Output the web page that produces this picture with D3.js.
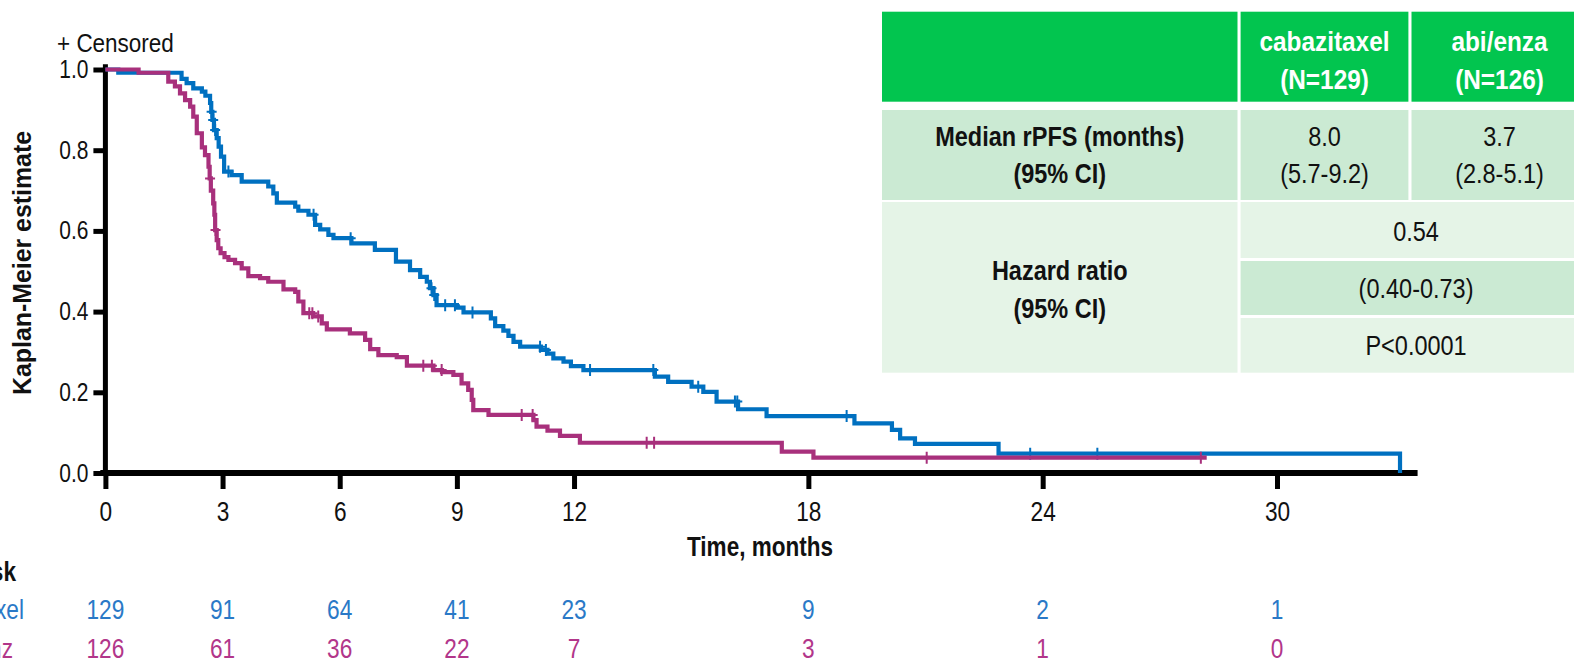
<!DOCTYPE html>
<html>
<head>
<meta charset="utf-8">
<script src="https://cdn.jsdelivr.net/npm/d3@7"></script>
<style>
  body { margin: 0; background: #fff; }
  svg { display: block; }
  text { font-family: "Liberation Sans", Arial, Helvetica, sans-serif; }
</style>
</head>
<body>
<svg id="chart" width="1574" height="661"></svg>
<script>
// ---- data ----
const months = [0, 3, 6, 9, 12, 18, 24, 30];
const survivalTicks = [0, 0.2, 0.4, 0.6, 0.8, 1.0];
const atRiskCaba = [129, 91, 64, 41, 23, 9, 2, 1];
const atRiskAbi = [126, 61, 36, 22, 7, 3, 1, 0];

// Kaplan-Meier steps: [time in months, survival after the step]
const cabaSteps = [
  [0, 1.0], [0.33, 0.992], [1.95, 0.977], [2.08, 0.966], [2.25, 0.953], [2.47, 0.945],
  [2.56, 0.935], [2.68, 0.917], [2.71, 0.895], [2.74, 0.875], [2.78, 0.850], [2.85, 0.830],
  [2.90, 0.809], [2.96, 0.784], [3.04, 0.747], [3.23, 0.738], [3.49, 0.722], [4.17, 0.710],
  [4.30, 0.693], [4.39, 0.670], [4.86, 0.660], [4.94, 0.650], [5.20, 0.640], [5.37, 0.615],
  [5.50, 0.604], [5.71, 0.590], [5.84, 0.582], [6.30, 0.569], [6.90, 0.553], [7.44, 0.524],
  [7.80, 0.503], [8.06, 0.486], [8.23, 0.474], [8.31, 0.458], [8.40, 0.441], [8.48, 0.416],
  [9.00, 0.410], [9.17, 0.398], [9.87, 0.383], [9.98, 0.364], [10.19, 0.353], [10.32, 0.340],
  [10.45, 0.325], [10.62, 0.313], [11.15, 0.305], [11.32, 0.296], [11.47, 0.284], [11.73, 0.276],
  [11.92, 0.265], [12.24, 0.255], [14.07, 0.239], [14.41, 0.226], [15.01, 0.214], [15.31, 0.201],
  [15.65, 0.177], [16.20, 0.158], [16.93, 0.141], [19.18, 0.123], [20.14, 0.107], [20.35, 0.086],
  [20.73, 0.072], [22.87, 0.048], [33.15, 0.0]
];
const cabaCensored = [2.72, 2.76, 2.81, 3.15, 5.33, 6.28, 8.35, 8.42, 8.70, 8.95, 9.40,
  11.13, 11.28, 12.41, 14.03, 15.18, 16.12, 16.18, 18.98, 23.68, 25.40];
const cabaLastTime = 33.15;

const abiSteps = [
  [0, 1.0], [0.85, 0.992], [1.61, 0.970], [1.78, 0.958], [1.91, 0.941], [2.04, 0.924],
  [2.17, 0.908], [2.25, 0.883], [2.34, 0.842], [2.47, 0.807], [2.55, 0.788], [2.64, 0.759],
  [2.67, 0.730], [2.70, 0.700], [2.76, 0.668], [2.79, 0.640], [2.81, 0.602], [2.85, 0.577],
  [2.89, 0.557], [2.95, 0.545], [3.05, 0.535], [3.15, 0.528], [3.32, 0.520], [3.49, 0.507],
  [3.66, 0.488], [3.96, 0.483], [4.17, 0.474], [4.56, 0.455], [4.86, 0.449], [4.94, 0.425],
  [5.07, 0.396], [5.32, 0.388], [5.54, 0.371], [5.67, 0.356], [6.26, 0.346], [6.65, 0.330],
  [6.78, 0.307], [6.99, 0.292], [7.46, 0.287], [7.72, 0.266], [8.40, 0.255], [8.62, 0.250],
  [8.91, 0.243], [9.12, 0.222], [9.29, 0.206], [9.38, 0.181], [9.42, 0.156], [9.81, 0.144],
  [10.96, 0.131], [11.04, 0.115], [11.32, 0.105], [11.64, 0.092], [12.15, 0.075], [17.32, 0.053],
  [18.13, 0.038]
];
const abiCensored = [2.68, 2.82, 5.22, 5.30, 5.45, 8.14, 8.36, 8.61, 10.66, 10.94, 13.86, 14.05, 21.03, 28.05];
const abiLastTime = 28.2;

const armNames = ["cabazitaxel", "abi/enza"];
const armN = [129, 126];
const medianRpfs = ["8.0", "3.7"];
const medianCI = ["(5.7-9.2)", "(2.8-5.1)"];
const hazardRatio = "0.54";
const hazardCI = "(0.40-0.73)";
const pValue = "P<0.0001";

// ---- styling ----
const blue = "#0070C0", magenta = "#A8307C";
const blueText = "#2A79C7", magentaText = "#B2368A";
const chartSqueeze = 0.84, tableSqueeze = 0.87;

const svg = d3.select("#chart");
const x = d3.scaleLinear().domain([0, 30]).range([105.4, 1277]);
const y = d3.scaleLinear().domain([0, 1]).range([473, 69.5]);

// horizontally condense text around its anchor point
function squeeze(sel, sx) {
  sel.each(function () {
    const t = d3.select(this);
    const tx = +t.attr("x") || 0, ty = +t.attr("y") || 0;
    t.attr("transform", `translate(${tx},${ty}) scale(${sx},1)`).attr("x", 0).attr("y", 0);
  });
  return sel;
}

// axes
const gx = svg.append("g").attr("transform", `translate(0,${y(0)})`)
  .call(d3.axisBottom(x).tickValues(months).tickSize(16).tickPadding(13).tickSizeOuter(0));
gx.select(".domain").remove();
gx.selectAll(".tick line").attr("stroke", "#000").attr("stroke-width", 5);
gx.selectAll(".tick text").attr("font-size", 27).attr("fill", "#111")
  .style("font-family", "'Liberation Sans', Arial, sans-serif").call(squeeze, chartSqueeze);

const gy = svg.append("g").attr("transform", `translate(${x(0)},0)`)
  .call(d3.axisLeft(y).tickValues(survivalTicks).tickFormat(d3.format(".1f")).tickSize(12).tickPadding(5).tickSizeOuter(0));
gy.select(".domain").remove();
gy.selectAll(".tick line").attr("stroke", "#000").attr("stroke-width", 5);
gy.selectAll(".tick text").attr("font-size", 25).attr("fill", "#111").call(squeeze, chartSqueeze);

// axis lines
svg.append("line").attr("x1", x(-0.13)).attr("x2", x(33.6)).attr("y1", y(0)).attr("y2", y(0))
  .attr("stroke", "#000").attr("stroke-width", 6);
svg.append("line").attr("x1", x(0)).attr("x2", x(0)).attr("y1", y(1.013)).attr("y2", y(-0.007))
  .attr("stroke", "#000").attr("stroke-width", 5);

// KM curves
const line = d3.line().x(d => x(d[0])).y(d => y(d[1])).curve(d3.curveStepAfter);
function survivalAt(steps, t) {
  let s = steps[0][1];
  for (const d of steps) { if (d[0] <= t) s = d[1]; else break; }
  return s;
}
function drawArm(steps, lastTime, censored, color) {
  const pts = steps.concat([[lastTime, steps[steps.length - 1][1]]]);
  svg.append("path").attr("d", line(pts)).attr("fill", "none")
    .attr("stroke", color).attr("stroke-width", 4.2);
  svg.append("g").selectAll("path").data(censored).join("path")
    .attr("transform", t => `translate(${x(t)},${y(survivalAt(steps, t))})`)
    .attr("d", "M-5,0H5M0,-6V6").attr("stroke", color).attr("stroke-width", 2).attr("fill", "none");
}
drawArm(cabaSteps, cabaLastTime, cabaCensored, blue);
drawArm(abiSteps, abiLastTime, abiCensored, magenta);

// titles
svg.append("text").attr("x", 57).attr("y", 52).attr("font-size", 25)
  .attr("fill", "#111").text("+ Censored").call(squeeze, 0.9);
svg.append("text").attr("transform", `translate(31,263) rotate(-90)`)
  .attr("text-anchor", "middle").attr("font-size", 26).attr("font-weight", "bold").attr("fill", "#111")
  .attr("textLength", 264).attr("lengthAdjust", "spacingAndGlyphs")
  .text("Kaplan-Meier estimate");
svg.append("text").attr("x", 760).attr("y", 556).attr("text-anchor", "middle")
  .attr("font-size", 27).attr("font-weight", "bold").attr("fill", "#111")
  .attr("textLength", 146).attr("lengthAdjust", "spacingAndGlyphs").text("Time, months");

// number at risk
svg.append("text").attr("x", 16).attr("y", 581).attr("text-anchor", "end")
  .attr("font-size", 27).attr("font-weight", "bold").attr("fill", "#111").text("No. at risk").call(squeeze, chartSqueeze);
svg.append("text").attr("x", 24).attr("y", 619).attr("text-anchor", "end")
  .attr("font-size", 27).attr("fill", blueText).text("cabazitaxel").call(squeeze, chartSqueeze);
svg.append("text").attr("x", 13).attr("y", 658).attr("text-anchor", "end")
  .attr("font-size", 27).attr("fill", magentaText).text("Abi/Enz").call(squeeze, chartSqueeze);
svg.append("g").selectAll("text").data(atRiskCaba).join("text")
  .attr("x", (d, i) => x(months[i])).attr("y", 619).attr("text-anchor", "middle")
  .attr("font-size", 27).attr("fill", blueText).text(d => d).call(squeeze, chartSqueeze);
svg.append("g").selectAll("text").data(atRiskAbi).join("text")
  .attr("x", (d, i) => x(months[i])).attr("y", 658).attr("text-anchor", "middle")
  .attr("font-size", 27).attr("fill", magentaText).text(d => d).call(squeeze, chartSqueeze);

// summary table
const green = "#02C54F", midGreen = "#CBEAD3", paleGreen = "#E5F4E7";
const tbl = svg.append("g");
const colX = [882, 1240.6, 1411.5], colW = [355.5, 167.8, 180];
const rowHead = [11.7, 90], rowMed = [110, 90], rowHaz = [202, 170.7];
function cell(xp, yp, w, h, fill) {
  tbl.append("rect").attr("x", xp).attr("y", yp).attr("width", w).attr("height", h).attr("fill", fill);
}
function label(xp, yp, txt, opts = {}) {
  tbl.append("text").attr("x", xp).attr("y", yp).attr("text-anchor", "middle")
    .attr("dominant-baseline", "central").attr("font-size", opts.size || 27)
    .attr("font-weight", opts.bold ? "bold" : "normal").attr("fill", opts.fill || "#111")
    .text(txt).call(squeeze, tableSqueeze);
}
for (let i = 0; i < 3; i++) cell(colX[i], rowHead[0], colW[i], rowHead[1], green);
for (let i = 0; i < 3; i++) cell(colX[i], rowMed[0], colW[i], rowMed[1], midGreen);
cell(colX[0], rowHaz[0], colW[0], rowHaz[1], paleGreen);
const rightW = colX[2] + colW[2] - colX[1];
cell(colX[1], 202, rightW, 56, paleGreen);
cell(colX[1], 261, rightW, 54, midGreen);
cell(colX[1], 318, rightW, 54.7, paleGreen);

armNames.forEach((name, i) => {
  const cx = colX[i + 1] + colW[i + 1] / 2 + (i === 1 ? -2 : 0);
  label(cx, 41, name, { bold: true, fill: "#fff", size: 28 });
  label(cx, 79, `(N=${armN[i]})`, { bold: true, fill: "#fff", size: 28 });
  label(cx, 136, medianRpfs[i]);
  label(cx, 173, medianCI[i]);
});
const c0 = colX[0] + colW[0] / 2;
label(c0, 136, "Median rPFS (months)", { bold: true });
label(c0, 173, "(95% CI)", { bold: true });
label(c0, 270, "Hazard ratio", { bold: true });
label(c0, 308, "(95% CI)", { bold: true });
const cr = colX[1] + rightW / 2;
label(cr, 231, hazardRatio);
label(cr, 288, hazardCI);
label(cr, 345, pValue);
</script>
</body>
</html>
